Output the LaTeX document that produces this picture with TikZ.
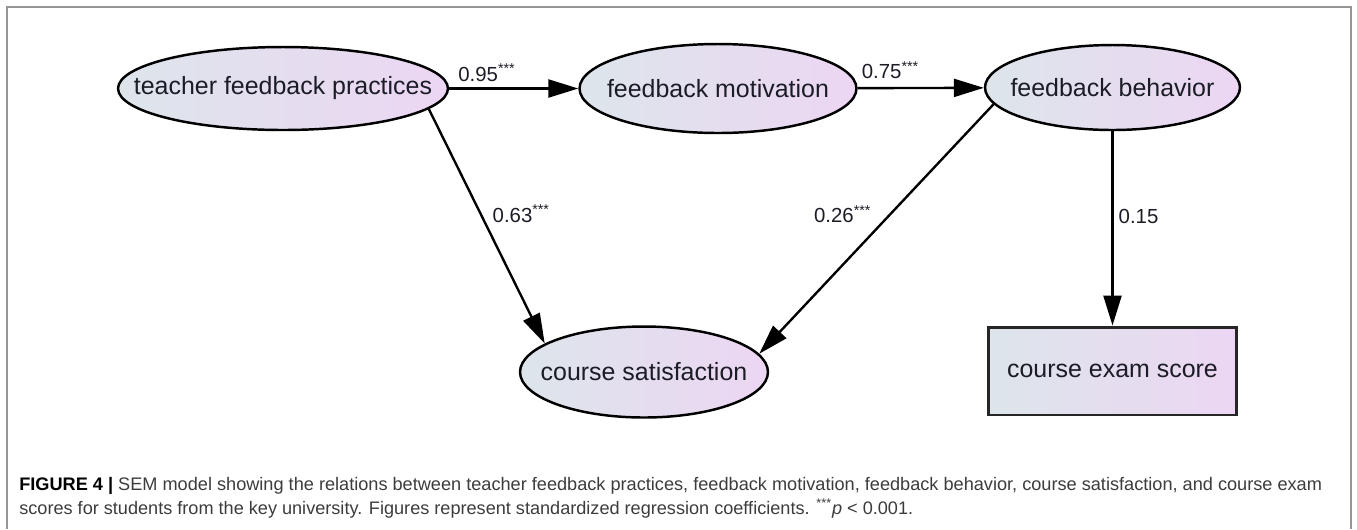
\documentclass[tikz,border=0pt]{standalone}
\usepackage{fontspec}
\setmainfont{Liberation Sans}
\usepackage{graphicx}
\usetikzlibrary{arrows.meta,shapes.geometric}
\definecolor{shadeL}{RGB}{221,229,235}
\definecolor{shadeR}{RGB}{236,214,243}
\definecolor{ink}{RGB}{28,28,38}
\definecolor{frame}{RGB}{150,150,150}
\definecolor{captext}{RGB}{60,60,60}

\begin{document}
\begin{tikzpicture}[x=0.02cm,y=-0.02cm]
    % Styles
    \tikzstyle{regression}=[-{Triangle[length=0.6cm,width=0.36cm]},line width=1.35pt]
    \tikzstyle{latent}=[ellipse,draw,line width=1.4pt,left color=shadeL,right color=shadeR,inner xsep=-2cm,inner ysep=-0.5cm,text=ink,font=\fontsize{14.2}{17}\selectfont]
    \tikzstyle{observed}=[rectangle,draw=black!85,line width=1.7pt,left color=shadeL,right color=shadeR,inner sep=0pt,text=ink,font=\fontsize{14.2}{17}\selectfont]
    \tikzstyle{coef}=[inner sep=0pt,text=ink,font=\fontsize{11.6}{13}\selectfont]
    \tikzstyle{legend}=[inner sep=0pt,anchor=base west,text=captext,font=\fontsize{10.3}{12}\selectfont]
    % Cadre
    \useasboundingbox (0,0) rectangle (1357,529);
    \draw[color=frame,line width=1.2pt] (7,529) -- (7,7) -- (1351,7) -- (1351,529);
    % Noeuds
    \node[latent,minimum width=6.6cm,minimum height=1.66cm] (Pra) at (283,88.5) {teacher feedback practices};
    \node[latent,minimum width=5.54cm,minimum height=1.78cm] (Mot) at (718,88.5) {feedback motivation};
    \node[latent,minimum width=5.1cm,minimum height=1.7cm] (Beh) at (1112.5,87.5) {feedback behavior};
    \node[latent,minimum width=4.96cm,minimum height=1.82cm] (Sat) at (644,372) {course satisfaction};
    \node[observed,minimum width=4.98cm,minimum height=1.76cm] (Exa) at (1112.5,371) {course exam score};
    % Arcs
    \draw[regression] (Pra) -- (Mot) node[coef,pos=0,anchor=south west,xshift=0.16cm,yshift=0.11cm] {0.95\textsuperscript{***}};
    \draw[regression] (Mot) -- (Beh) node[coef,pos=0,anchor=south west,xshift=0.06cm,yshift=0.16cm] {0.75\textsuperscript{***}};
    \draw[regression] (Pra.-8) -- (Sat.164) node[coef,pos=0.446,anchor=west,xshift=0.22cm] {0.63\textsuperscript{***}};
    \draw[regression] (Beh.188) -- (Sat.9) node[coef,pos=0.44,anchor=east,xshift=-0.36cm] {0.26\textsuperscript{***}};
    \draw[regression] (Beh) -- (Exa) node[coef,pos=0.44,anchor=west,xshift=0.1cm] {0.15};
    % Legende
    \node[legend] (capA) at (19,490) {\resizebox{26.06cm}{!}{\textbf{\color{black}FIGURE 4 |} SEM model showing the relations between teacher feedback practices, feedback motivation, feedback behavior, course satisfaction, and course exam}};
    \node[legend] (capB) at (19,514) {\resizebox{17.88cm}{!}{scores for students from the key university. Figures represent standardized regression coefficients. \textsuperscript{***}\textit{p} < 0.001.}};
\end{tikzpicture}
\end{document}
